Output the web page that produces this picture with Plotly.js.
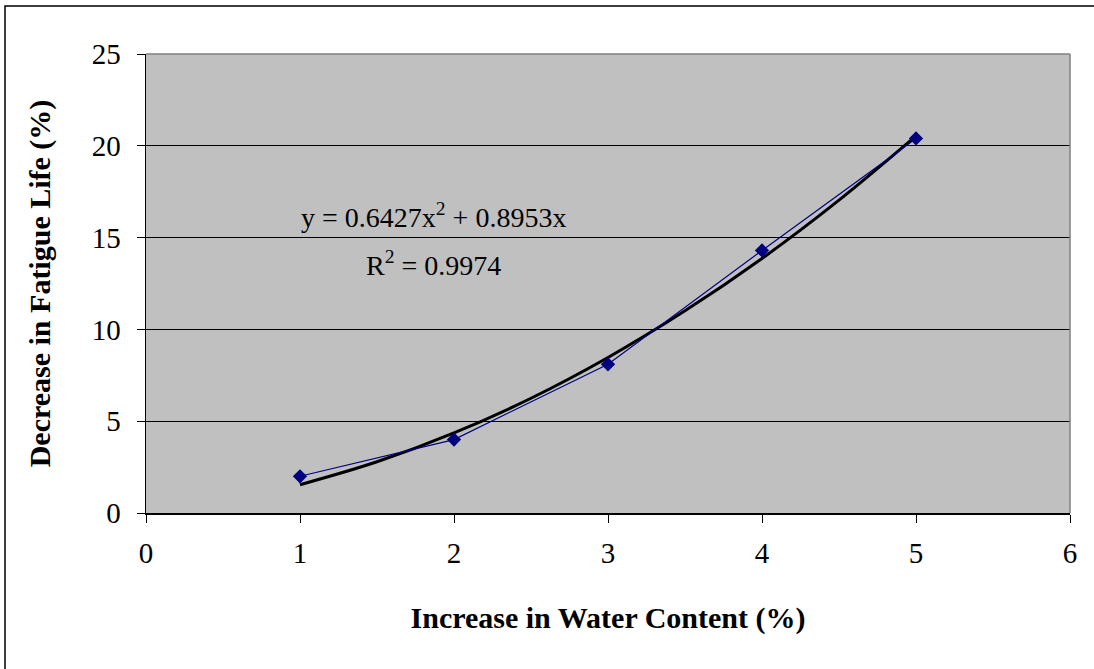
<!DOCTYPE html>
<html>
<head>
<meta charset="utf-8">
<script src="https://cdn.plot.ly/plotly-3.0.1.min.js"></script>
<style>html,body{margin:0;padding:0;background:#fff;}</style>
</head>
<body>
<div id="chart" style="width:1094px;height:669px;"></div>
<script>
// Observed data points
const waterContent = [1, 2, 3, 4, 5];
const fatigueDecrease = [2.0, 4.0, 8.1, 14.3, 20.4];
// Trendline values
const trendX = [1, 1.5, 2, 2.5, 3, 3.5, 4, 4.5, 5];
const trendY = [1.54, 2.79, 4.36, 6.25, 8.47, 11.01, 13.86, 17.04, 20.54];
const equationText = 'y = 0.6427x<sup>2</sup> + 0.8953x';
const r2Text = 'R<sup>2</sup> = 0.9974';
const xTicks = [0, 1, 2, 3, 4, 5, 6];
const yTicks = [0, 5, 10, 15, 20, 25];

const font = 'Liberation Serif, Times New Roman, serif';

const traces = [
  {
    x: trendX, y: trendY, mode: 'lines', type: 'scatter',
    line: {color: '#000000', width: 3, shape: 'spline'},
    hoverinfo: 'skip', showlegend: false
  },
  {
    x: waterContent, y: fatigueDecrease, mode: 'lines+markers', type: 'scatter',
    line: {color: '#000080', width: 1.2},
    marker: {symbol: 'diamond', size: 11, color: '#000080'},
    showlegend: false
  }
];

const layout = {
  width: 1094, height: 669,
  margin: {l: 146, r: 24, t: 54, b: 156},
  paper_bgcolor: '#ffffff',
  plot_bgcolor: '#c0c0c0',
  font: {family: font, size: 29, color: '#000'},
  showlegend: false,
  xaxis: {
    range: [0, 6], tickvals: xTicks, ticktext: xTicks.map(String),
    showgrid: false, zeroline: false,
    showline: true, linecolor: '#000', linewidth: 1.5,
    ticks: 'outside', ticklen: 8, tickcolor: '#000', tickwidth: 1,
    ticklabelstandoff: 6,
    tickfont: {family: font, size: 29},
    title: {text: '<b>Increase in Water Content (%)</b>', font: {family: font, size: 30}, standoff: 38}
  },
  yaxis: {
    range: [0, 25], tickvals: yTicks, ticktext: yTicks.map(String),
    showgrid: true, gridcolor: '#000', gridwidth: 1, zeroline: false,
    showline: true, linecolor: '#000', linewidth: 1.5,
    ticks: 'outside', ticklen: 8, tickcolor: '#000', tickwidth: 1,
    ticklabelstandoff: 10,
    tickfont: {family: font, size: 29},
    title: {text: '<b>Decrease in Fatigue Life (%)</b>', font: {family: font, size: 30}, standoff: 32}
  },
  shapes: [
    {type: 'line', xref: 'paper', yref: 'paper', x0: 0, x1: 1, y0: 1, y1: 1, line: {color: '#808080', width: 1.5}},
    {type: 'line', xref: 'paper', yref: 'paper', x0: 1, x1: 1, y0: 0, y1: 1, line: {color: '#808080', width: 1.5}},
    {type: 'rect', xref: 'paper', yref: 'paper', x0: -0.1526, x1: 1.2, y0: -0.5, y1: 1.1046, line: {color: '#000', width: 1.5}, fillcolor: 'rgba(0,0,0,0)'}
  ],
  annotations: [
    {x: 1.87, y: 16.2, xref: 'x', yref: 'y', text: equationText, showarrow: false, font: {family: font, size: 28, color: '#000'}},
    {x: 1.87, y: 13.6, xref: 'x', yref: 'y', text: r2Text, showarrow: false, font: {family: font, size: 28, color: '#000'}}
  ]
};

Plotly.newPlot('chart', traces, layout, {displayModeBar: false, staticPlot: true});
</script>
</body>
</html>
